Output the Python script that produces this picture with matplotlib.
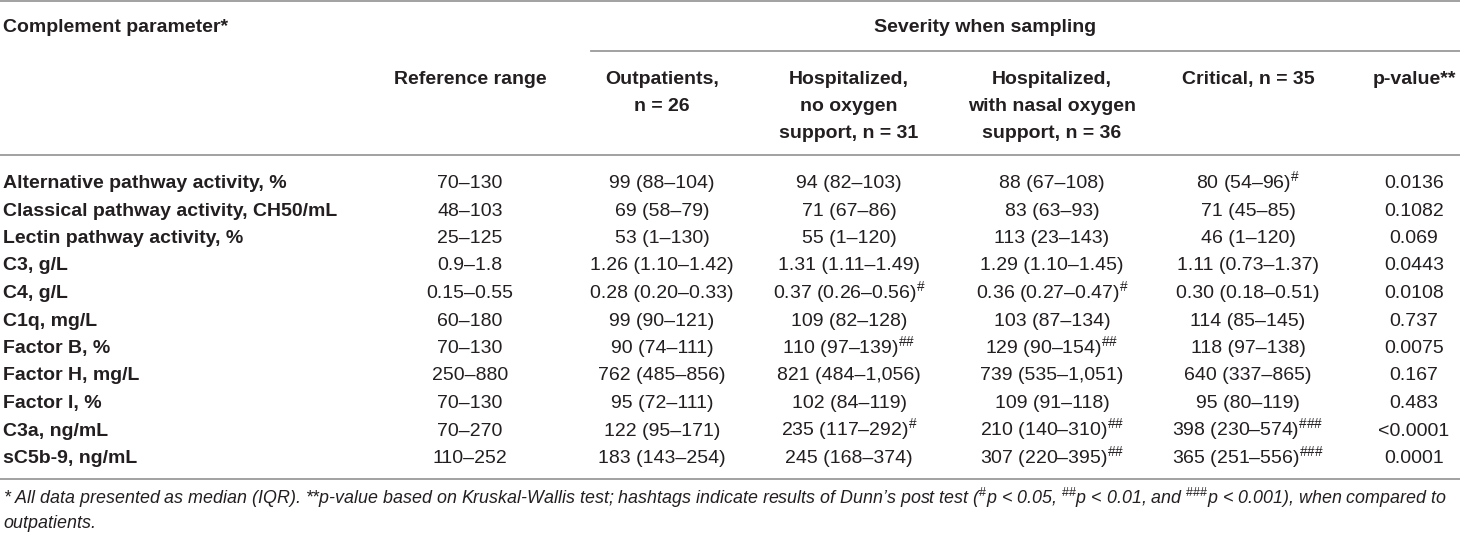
# table of complement parameters by severity, drawn as text on a blank axes

import matplotlib
matplotlib.use("Agg")
import matplotlib.pyplot as plt

plt.rcParams['font.family'] = ['Liberation Sans', 'DejaVu Sans']
plt.rcParams['mathtext.fontset'] = 'custom'
plt.rcParams['mathtext.rm'] = 'Liberation Sans'
plt.rcParams['mathtext.it'] = 'Liberation Sans:italic'
plt.rcParams['mathtext.bf'] = 'Liberation Sans:bold'

# table data
params = ["Alternative pathway activity, %", "Classical pathway activity, CH50/mL",
          "Lectin pathway activity, %", "C3, g/L", "C4, g/L", "C1q, mg/L",
          "Factor B, %", "Factor H, mg/L", "Factor I, %", "C3a, ng/mL", "sC5b-9, ng/mL"]
ref_range = ["70–130", "48–103", "25–125", "0.9–1.8", "0.15–0.55", "60–180",
             "70–130", "250–880", "70–130", "70–270", "110–252"]
outpatients = ["99 (88–104)", "69 (58–79)", "53 (1–130)", "1.26 (1.10–1.42)",
               "0.28 (0.20–0.33)", "99 (90–121)", "90 (74–111)", "762 (485–856)",
               "95 (72–111)", "122 (95–171)", "183 (143–254)"]
hosp_no_o2 = ["94 (82–103)", "71 (67–86)", "55 (1–120)", "1.31 (1.11–1.49)",
              "0.37 (0.26–0.56)", "109 (82–128)", "110 (97–139)", "821 (484–1,056)",
              "102 (84–119)", "235 (117–292)", "245 (168–374)"]
hosp_nasal = ["88 (67–108)", "83 (63–93)", "113 (23–143)", "1.29 (1.10–1.45)",
              "0.36 (0.27–0.47)", "103 (87–134)", "129 (90–154)", "739 (535–1,051)",
              "109 (91–118)", "210 (140–310)", "307 (220–395)"]
critical = ["80 (54–96)", "71 (45–85)", "46 (1–120)", "1.11 (0.73–1.37)",
            "0.30 (0.18–0.51)", "114 (85–145)", "118 (97–138)", "640 (337–865)",
            "95 (80–119)", "398 (230–574)", "365 (251–556)"]
p_values = ["0.0136", "0.1082", "0.069", "0.0443", "0.0108", "0.737",
            "0.0075", "0.167", "0.483", "<0.0001", "0.0001"]

# Dunn's post test marks (number of hashtags) vs outpatients
no_o2_sig = [0, 0, 0, 0, 1, 0, 2, 0, 0, 1, 0]
nasal_sig = [0, 0, 0, 0, 1, 0, 2, 0, 0, 2, 2]
crit_sig = [1, 0, 0, 0, 0, 0, 0, 0, 0, 3, 3]

group_headers = [["Outpatients,", "n = 26"],
                 ["Hospitalized,", "no oxygen", "support, n = 31"],
                 ["Hospitalized,", "with nasal oxygen", "support, n = 36"],
                 ["Critical, n = 35"]]

footnote1 = ("* All data presented as median (IQR). **p-value based on Kruskal-Wallis test; "
             "hashtags indicate results of Dunn’s post test (${}^{\\#}$p < 0.05, "
             "${}^{\\#\\#}$p < 0.01, and ${}^{\\#\\#\\#}$p < 0.001), when compared to")
footnote2 = "outpatients."

TXT = '#231f20'
LINE = '#9a9a9a'
FS = 14
BL = 7  # centre -> baseline offset in px


def with_marks(val, n):
    if n == 0:
        return val
    return val + "${}^{" + "\\#" * n + "}$"


fig = plt.figure(figsize=(14.6, 5.36), dpi=100)
ax = fig.add_axes([0, 0, 1, 1])
ax.set_xlim(0, 1460)
ax.set_ylim(536, 0)
ax.axis('off')

# column centres
x_label = 3
x_ref = 470
x_groups = [662, 849, 1052, 1248]
x_p = 1414

# rules
ax.plot([0, 1460], [1, 1], color=LINE, lw=1.3)
ax.plot([591, 1460], [51, 51], color=LINE, lw=1.3)
ax.plot([0, 1460], [155, 155], color=LINE, lw=1.3)
ax.plot([0, 1460], [479, 479], color=LINE, lw=1.3)

# header
hdr = dict(fontsize=FS, fontweight='bold', color=TXT, va='baseline')
ax.text(x_label, 25 + BL, "Complement parameter*", ha='left', **hdr)
ax.text(985, 25 + BL, "Severity when sampling", ha='center', **hdr)
ax.text(x_ref, 77 + BL, "Reference range", ha='center', **hdr)
for xc, lines in zip(x_groups, group_headers):
    for k, ln in enumerate(lines):
        ax.text(xc, 77 + 27 * k + BL, ln, ha='center', **hdr)
ax.text(x_p, 77 + BL, "p-value**", ha='center', **hdr)

# body
row_y0 = 181
row_h = 27.5
xs = [x_ref] + x_groups + [x_p]
for i in range(len(params)):
    y = row_y0 + row_h * i + BL
    ax.text(x_label, y, params[i], ha='left', va='baseline', fontsize=FS,
            fontweight='bold', color=TXT)
    cells = [ref_range[i], outpatients[i],
             with_marks(hosp_no_o2[i], no_o2_sig[i]),
             with_marks(hosp_nasal[i], nasal_sig[i]),
             with_marks(critical[i], crit_sig[i]), p_values[i]]
    for xc, c in zip(xs, cells):
        ax.text(xc, y, c, ha='center', va='baseline', fontsize=FS, color=TXT)

# footnote
ax.text(x_label, 498 + 6, footnote1, ha='left', va='baseline', fontsize=12.9,
        style='italic', color=TXT)
ax.text(x_label, 522 + 6, footnote2, ha='left', va='baseline', fontsize=12.9,
        style='italic', color=TXT)

fig.savefig("out.png", dpi=100)
